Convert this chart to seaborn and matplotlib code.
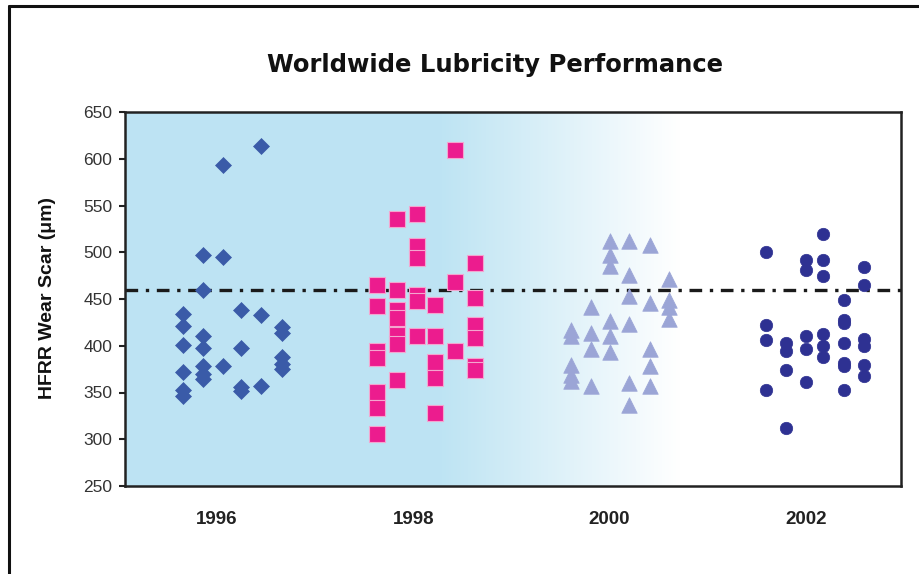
import numpy as np
import pandas as pd
import matplotlib
matplotlib.use('Agg')
import matplotlib.pyplot as plt
from matplotlib.lines import Line2D
import seaborn as sns

# data: one list of wear scars per column of points
year_labels = ['1996', '1998', '2000', '2002']
year_ticks = [1996, 1998, 2000, 2002]
limit = 460

cols_1996 = [1995.65, 1995.86, 1996.06, 1996.25, 1996.45, 1996.66]
wear_1996 = [
    [434, 421, 401, 372, 353, 346],
    [497, 460, 410, 398, 378, 370, 364],
    [593, 495, 378],
    [438, 398, 356, 352],
    [614, 433, 357],
    [420, 414, 388, 381, 375],
]

cols_1998 = [1997.63, 1997.83, 1998.04, 1998.22, 1998.43, 1998.63]
wear_1998 = [
    [465, 443, 394, 387, 351, 333, 306],
    [536, 460, 438, 430, 412, 402, 363],
    [541, 507, 494, 454, 448, 410],
    [444, 410, 383, 365, 328],
    [609, 468, 394],
    [488, 451, 422, 408, 378, 374],
]

cols_2000 = [1999.61, 1999.81, 2000.0, 2000.2, 2000.41, 2000.61]
wear_2000 = [
    [417, 410, 379, 369, 362],
    [441, 414, 396, 357],
    [512, 497, 485, 426, 410, 393],
    [512, 476, 453, 423, 360, 337],
    [508, 446, 396, 378, 357],
    [471, 449, 441, 429],
]

cols_2002 = [2001.59, 2001.80, 2002.0, 2002.18, 2002.39, 2002.59]
wear_2002 = [
    [500, 422, 406, 353],
    [403, 394, 374, 312],
    [492, 481, 410, 397, 361],
    [520, 492, 475, 413, 400, 388],
    [449, 428, 424, 403, 382, 378, 353],
    [484, 465, 407, 400, 379, 368],
]

rows = []
for year, cols, wear in [('1996', cols_1996, wear_1996), ('1998', cols_1998, wear_1998),
                         ('2000', cols_2000, wear_2000), ('2002', cols_2002, wear_2002)]:
    for x, vals in zip(cols, wear):
        for v in vals:
            rows.append({'year': year, 'x': x, 'wear': v})
df = pd.DataFrame(rows)

styles = {
    '1996': dict(marker='D', s=66, color='#3a5ba8', edgecolor='#3a5ba8', linewidth=0.5),
    '1998': dict(marker='s', s=118, color='#ec1c8e', edgecolor='#f3a6cf', linewidth=0.8),
    '2000': dict(marker='^', s=125, color='#9ba5d6', edgecolor='#9ba5d6', linewidth=0.5),
    '2002': dict(marker='o', s=80, color='#2e3192', edgecolor='#2e3192', linewidth=0.5),
}

sns.set_style('white')
plt.rcParams['font.family'] = ['Liberation Sans', 'DejaVu Sans']

fig = plt.figure(figsize=(9.19, 5.74), dpi=100)
ax = fig.add_axes([125 / 919, 88 / 574, 776 / 919, 374 / 574])

xmin, xmax = 1995.063, 2002.97
ymin, ymax = 250, 650

# background fade: light blue on the left, white toward the right
xs = np.linspace(xmin, xmax, 800)
t = np.clip((xs - 1998.29) / (2000.72 - 1998.29), 0, 1)
blue = np.array([0.745, 0.894, 0.953])
grad = blue[None, :] * (1 - t[:, None]) + np.ones(3)[None, :] * t[:, None]
ax.imshow(grad[None, :, :], extent=[xmin, xmax, ymin, ymax], aspect='auto',
          origin='lower', zorder=0, interpolation='bilinear')

ax.axhline(limit, color='#1a1a1a', lw=2.4, dashes=(3.8, 2.3, 1.0, 2.3), zorder=1)

for year in year_labels:
    sub = df[df['year'] == year]
    sns.scatterplot(data=sub, x='x', y='wear', ax=ax, legend=False, zorder=3, **styles[year])

ax.set_xlim(xmin, xmax)
ax.set_ylim(ymin, ymax)
ax.set_xticks(year_ticks)
ax.set_xticklabels(year_labels, fontsize=13.5, fontweight='bold', color='#222222')
ax.set_yticks(range(250, 651, 50))
ax.tick_params(axis='x', length=0, pad=18)
ax.tick_params(axis='y', length=4, width=1.5, color='#222222', pad=5, labelsize=12.5,
               labelcolor='#333333', left=True)
ax.set_xlabel('')
ax.set_ylabel('')
for sp in ax.spines.values():
    sp.set_visible(True)
    sp.set_color('#222222')
    sp.set_linewidth(1.8)

fig.text(495 / 919, 1 - 65 / 574, 'Worldwide Lubricity Performance', ha='center', va='center',
         fontsize=17.5, fontweight='bold', family=['DejaVu Sans'], color='#111111')
fig.text(48 / 919, 1 - 298 / 574, 'HFRR Wear Scar (\u03bcm)', rotation=90, ha='center', va='center',
         fontsize=14, fontweight='bold', color='#111111')

# outer frame (left and top edges only)
fig.add_artist(Line2D([9 / 919, 9 / 919], [0, 1 - 6 / 574], transform=fig.transFigure, color='#111111', lw=2.2))
fig.add_artist(Line2D([9 / 919, 1], [1 - 6 / 574, 1 - 6 / 574], transform=fig.transFigure, color='#111111', lw=2.2))

fig.savefig('out.png', dpi=100)
